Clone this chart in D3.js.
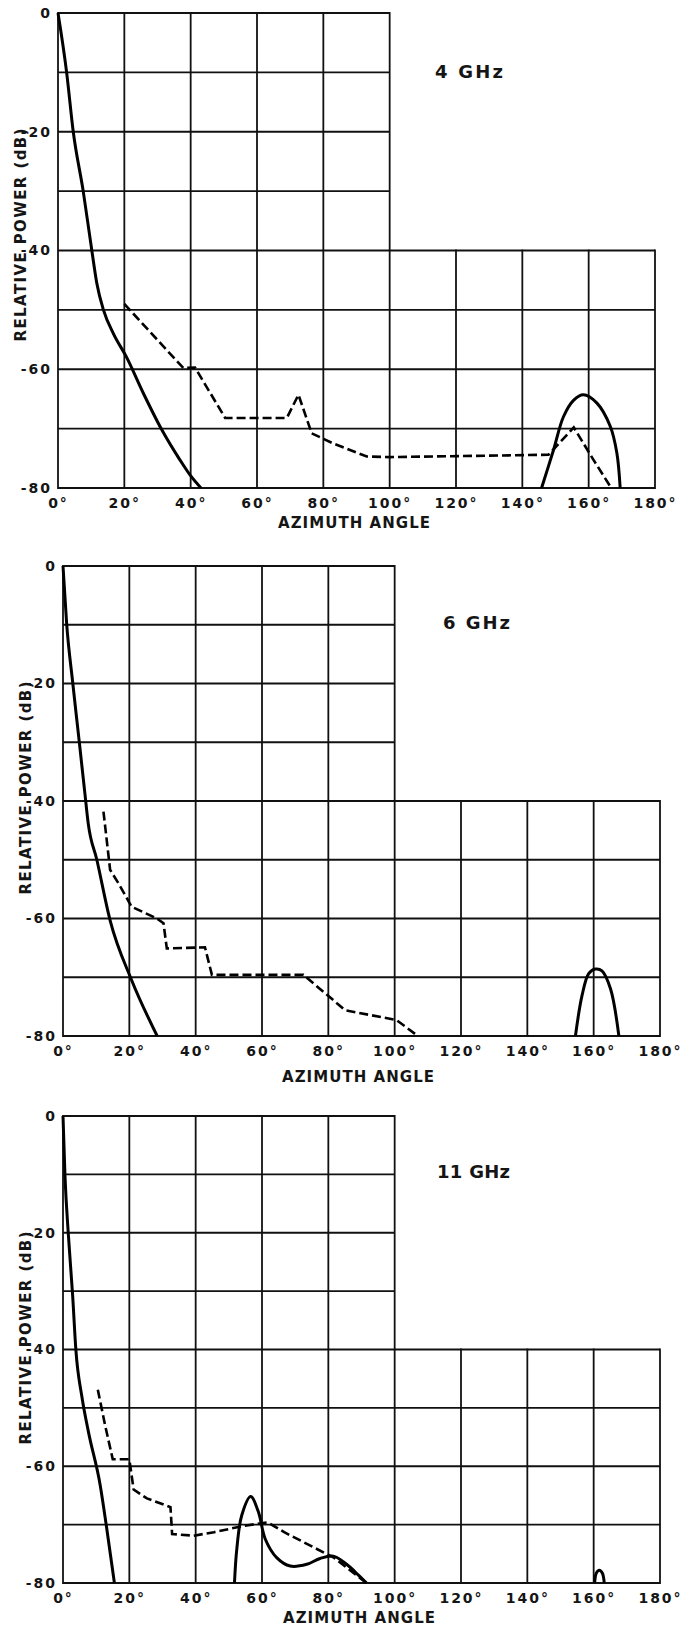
<!DOCTYPE html>
<html>
<head>
<meta charset="utf-8">
<script src="https://cdn.jsdelivr.net/npm/d3@7"></script>
<style>
  body { margin: 0; background: #fff; }
  svg text { font-family: "DejaVu Sans", sans-serif; font-weight: bold; fill: #151515; }
</style>
</head>
<body>
<svg id="chart" width="683" height="1628"></svg>
<script>
// tick labels / grid
const angleTicks = [0, 20, 40, 60, 80, 100, 120, 140, 160, 180];
const powerTicks = [0, -20, -40, -60, -80];
const gridPowers = [0, -10, -20, -30, -40, -50, -60, -70, -80];

// 4 GHz  [azimuth deg, relative power dB]
const main4 = [[0,0],[2.6,-10],[4.6,-20],[7.6,-30],[10.2,-40],[11.7,-45.5],[13.7,-50],[16.7,-54],
  [20.7,-58],[25.7,-64],[31.3,-70.2],[36.8,-75.3],[39.8,-77.8],[43.1,-80]];
const side4 = [[145.8,-80],[149.4,-73.6],[152.4,-68],[155.5,-65.2],[158.4,-64.3],[162.5,-65.7],
  [166.5,-69.6],[168.5,-74.1],[169.5,-80]];
const dash4 = [[20,-49],[37.8,-59.8],[41.3,-59.7],[50.4,-68.2],[69,-68.2],[72.5,-64.3],[76.5,-70.8],
  [83,-72.5],[93.1,-74.7],[100,-74.8],[147.9,-74.4],[149.4,-73.5],[155.5,-69.8],[161.5,-75.3],[166.8,-80]];

// 6 GHz
const main6 = [[0,0],[1.1,-9.8],[2.9,-19.7],[4.9,-29.9],[6.6,-38.7],[7.6,-43.8],[10.2,-50],
  [14.2,-60.3],[20.7,-70.5],[28.4,-80]];
const side6 = [[154.5,-80],[156.5,-73.1],[158.5,-69.4],[160.5,-68.6],[162.5,-68.9],[165.1,-72],[167.6,-80]];
const dash6 = [[12.2,-41.8],[14.2,-51.7],[16.7,-54],[20.7,-58],[28.3,-60],[30.3,-60.8],[31.3,-65.1],
  [42.8,-64.9],[44.9,-69.6],[72.5,-69.6],[81.5,-73.9],[85,-75.6],[100.6,-77.3],[107,-80]];

// 11 GHz
const main11 = [[0,0],[0.6,-10.3],[1.6,-20.2],[2.9,-30.7],[3.9,-40.2],[5.7,-48.1],[7.7,-54.2],
  [11.2,-63.2],[13.2,-70.7],[15.5,-80]];
const lobe11 = [[51.7,-80],[52.4,-74.2],[53.9,-68.4],[56.6,-65.2],[58.9,-67.8],[61,-72.5],[64.5,-75.7],
  [68.5,-77.1],[73.5,-76.8],[77.5,-75.8],[81.5,-75.4],[85.5,-76.8],[89,-78.6],[91.5,-80]];
const bump11 = [[160.3,-80],[160.8,-78.3],[161.7,-77.8],[162.6,-78.3],[163.2,-80]];
const dash11 = [[10.5,-46.9],[12.7,-53],[15,-58.8],[20,-58.8],[21.3,-64],[25.3,-65.5],[32.4,-67],
  [32.9,-71.6],[39.4,-71.9],[45.5,-71.3],[54.6,-70.2],[61.7,-69.6],[66.7,-71.3],[81.8,-75.7],[91.5,-80]];

// layout for each panel
const panels = [
  {title: "4 GHz",  x0: 58, x1: 655, y0: 13,   y1: 488,  tx: 435, tw: 68, tdy: 65, ldy: 40, lx: 278,
   main: main4, lobes: [side4], dashed: [dash4]},
  {title: "6 GHz",  x0: 63, x1: 660, y0: 566,  y1: 1036, tx: 443, tw: 67, tdy: 63, ldy: 46, lx: 282,
   main: main6, lobes: [side6], dashed: [dash6]},
  {title: "11 GHz", x0: 63, x1: 660, y0: 1116, y1: 1583, tx: 437, tw: 73, tdy: 62, ldy: 40, lx: 283,
   main: main11, lobes: [lobe11, bump11], dashed: [dash11]}
];

const svg = d3.select("#chart");
svg.append("rect").attr("width", 683).attr("height", 1628).attr("fill", "#fff");

panels.forEach(p => {
  const x = d3.scaleLinear().domain([0, 180]).range([p.x0, p.x1]);
  const y = d3.scaleLinear().domain([0, -80]).range([p.y0, p.y1]);
  const g = svg.append("g");

  // grid: upper half only runs to 100 deg
  g.selectAll(".hgrid").data(gridPowers).enter().append("line")
    .attr("x1", x(0)).attr("x2", d => x(d > -40 ? 100 : 180))
    .attr("y1", d => y(d)).attr("y2", d => y(d))
    .attr("stroke", "#111").attr("stroke-width", 1.8);
  g.selectAll(".vgrid").data(angleTicks).enter().append("line")
    .attr("x1", d => x(d)).attr("x2", d => x(d))
    .attr("y1", d => y(d <= 100 ? 0 : -40)).attr("y2", y(-80))
    .attr("stroke", "#111").attr("stroke-width", 1.8)
    .attr("stroke-linecap", "square");

  // axes (labels only)
  const ya = g.append("g").attr("transform", `translate(${p.x0},0)`)
    .call(d3.axisLeft(y).tickValues(powerTicks).tickSize(0).tickPadding(6).tickFormat(d => String(d)));
  const xa = g.append("g").attr("transform", `translate(0,${p.y1})`)
    .call(d3.axisBottom(x).tickValues(angleTicks).tickSize(0).tickPadding(10).tickFormat(d => d + "°"));
  [ya, xa].forEach(a => {
    a.select(".domain").remove();
    a.selectAll("text").attr("font-family", null).style("font-size", "14px").style("letter-spacing", "2px");
  });

  const line = d3.line().x(d => x(d[0])).y(d => y(d[1]));

  g.append("path").datum(p.main)
    .attr("d", line.curve(d3.curveMonotoneX))
    .attr("fill", "none").attr("stroke", "#000").attr("stroke-width", 3);
  g.selectAll(".lobe").data(p.lobes).enter().append("path")
    .attr("d", line.curve(d3.curveCatmullRom.alpha(0.5)))
    .attr("fill", "none").attr("stroke", "#000").attr("stroke-width", 3)
    .attr("stroke-linejoin", "round");
  g.selectAll(".dash").data(p.dashed).enter().append("path")
    .attr("d", line.curve(d3.curveLinear))
    .attr("fill", "none").attr("stroke", "#000").attr("stroke-width", 2.6)
    .attr("stroke-dasharray", "9,4");

  // titles and axis names
  g.append("text").attr("x", p.tx).attr("y", p.y0 + p.tdy)
    .attr("textLength", p.tw).attr("lengthAdjust", "spacing")
    .style("font-size", "18px").text(p.title);
  g.append("text").attr("x", p.lx).attr("y", p.y1 + p.ldy)
    .attr("textLength", 152).attr("lengthAdjust", "spacing")
    .style("font-size", "15px").text("AZIMUTH ANGLE");
  g.append("text")
    .attr("transform", `translate(${p.x0 - 32},${p.y0 + 222}) rotate(-90)`)
    .attr("text-anchor", "middle")
    .attr("textLength", 213).attr("lengthAdjust", "spacing")
    .style("font-size", "15px").text("RELATIVE POWER (dB)");
});
</script>
</body>
</html>
